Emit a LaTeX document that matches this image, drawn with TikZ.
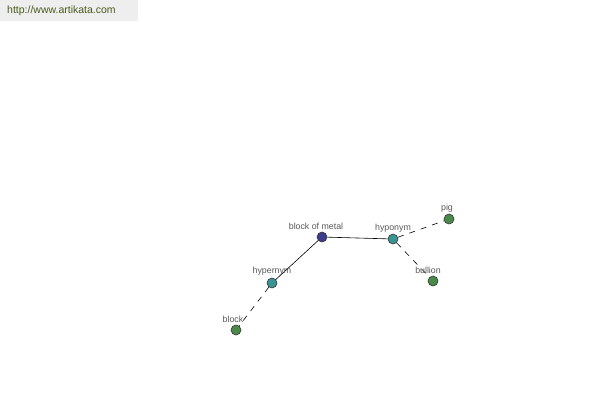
\documentclass[tikz,border=0pt]{standalone}
\usepackage{fontspec}
\setmainfont{Liberation Sans}
\begin{document}
\begin{tikzpicture}[x=1pt,y=-1pt,
  vert/.style={circle,draw=black!80,line width=0.6pt,minimum size=10pt,inner sep=0pt},
  rootv/.style={vert,fill=rootc},
  midv/.style={vert,fill=midc},
  leafv/.style={vert,fill=leafc},
  lbl/.style={font=\fontsize{8.8}{9}\selectfont,text=black!65,inner sep=0pt},
  solidedge/.style={draw=black,line width=0.6pt},
  dashedge/.style={draw=black,line width=0.6pt,dash pattern=on 6pt off 6pt}]
\definecolor{rootc}{HTML}{3C3C8C}
\definecolor{midc}{HTML}{3A9494}
\definecolor{leafc}{HTML}{4A8A48}
\definecolor{hdr}{HTML}{EEEEEE}
\definecolor{hdrtext}{HTML}{4A5A1E}
\useasboundingbox[fill=white] (0,0) rectangle (600,400);
\fill[hdr] (0,0) rectangle (138,21);
\node[anchor=west,font=\fontsize{10.5}{12}\selectfont,text=hdrtext,inner sep=0pt] (url) at (7,11) {http://www.artikata.com};
\node[rootv] (bom) at (322,237) {};
\node[midv] (hypo) at (393,239) {};
\node[midv] (hyper) at (272,283) {};
\node[leafv] (pig) at (449,219) {};
\node[leafv] (bull) at (433,281) {};
\node[leafv] (blk) at (236,330) {};
\draw[solidedge] (bom) -- (hypo);
\draw[solidedge] (bom) -- (hyper);
\draw[dashedge] (hyper) -- (blk);
\draw[dashedge] (hypo) -- (pig);
\draw[dashedge] (hypo) -- (bull);
\node[lbl] (lbom) at (316,226) {block of metal};
\node[lbl] (lhypo) at (393,228) {hyponym};
\node[lbl] (lpig) at (447,208) {pig};
\node[lbl] (lbull) at (428,270) {bullion};
\node[lbl] (lhyper) at (272,271) {hypernym};
\node[lbl] (lblk) at (233,319) {block};
\end{tikzpicture}
\end{document}
